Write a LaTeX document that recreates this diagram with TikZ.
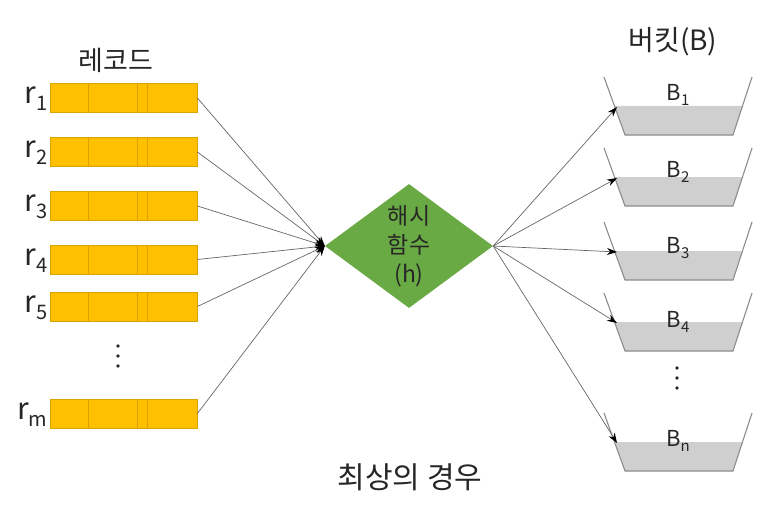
\documentclass[tikz,border=0pt]{standalone}
\usepackage{fontspec}
\setmainfont{Noto Sans CJK KR}
\usetikzlibrary{shapes.geometric,arrows.meta}
\definecolor{recfill}{HTML}{FFC000}
\definecolor{recline}{HTML}{D9A200}
\definecolor{hashgreen}{HTML}{6AAA45}
\definecolor{txt}{HTML}{262626}
\definecolor{bucketline}{HTML}{8C8C8C}
\definecolor{bucketfill}{HTML}{CFCFCF}
\newcommand{\subtxt}[1]{{\fontsize{20}{20}\selectfont\raisebox{-7pt}{#1}}}
\newcommand{\bsub}[1]{{\fontsize{15}{15}\selectfont\raisebox{-5pt}{#1}}}
\tikzset{
  rec/.style={draw=recline, fill=recfill, line width=0.8pt, minimum width=147pt, minimum height=29pt, inner sep=0pt},
  recdiv/.style={draw=recline, line width=0.8pt},
  rlab/.style={text=txt, font=\fontsize{30}{30}\selectfont, inner sep=0pt, anchor=east},
  title/.style={text=txt, font=\fontsize{27}{27}\selectfont, inner sep=0pt},
  hash/.style={shape=diamond, fill=hashgreen, minimum width=168pt, minimum height=124pt, inner sep=0pt, aspect=1.35, text=txt, align=center, font=\fontsize{23}{29}\selectfont},
  bucket/.style={draw=bucketline, line width=1.1pt},
  blab/.style={text=txt, font=\fontsize{22}{22}\selectfont, inner sep=0pt},
  conn/.style={draw=black!60, line width=0.7pt, -{Stealth[length=10pt,width=7pt,color=black]}},
  dotmark/.style={fill=black!85, draw=none}
}
\begin{document}
\begin{tikzpicture}[x=1pt,y=-1pt]
\useasboundingbox (0,0) rectangle (777,511);
% titles
\node[title] (trec) at (116,60) {레코드};
\node[title, font=\fontsize{28}{28}\selectfont] (tbuck) at (673,42) {버킷(B)};
\node[title, font=\fontsize{30}{30}\selectfont] (tcase) at (410,477) {최상의 경우};
% hash function
\node[hash] (h) at (409,246) {해시\\함수\\(h)};
% records
\foreach \n/\y in {1/98,2/152,3/206,4/259.5,5/306.5,m/413.5}{
  \node[rec] (r\n) at (123.5,\y) {};
  \foreach \dx in {39,88,98}{
    \draw[recdiv] ([xshift=\dx pt]r\n.north west) -- ([xshift=\dx pt]r\n.south west);
  }
  \node[rlab] (l\n) at ([xshift=-2pt,yshift=-1pt]r\n.west) {r\subtxt{\n}};
  \draw[conn] (r\n.east) -- (h.west);
}
% vertical dots under records
\foreach \yy in {346,356,366}{ \fill[dotmark] (118,\yy) circle (1.9pt); }
% buckets
\foreach \n/\T/\ly in {1/77/95,2/148/172,3/222/248,4/293/322,n/413/441}{
  \fill[bucketfill] (614.5,\T+29) -- (742.5,\T+29) -- (733,\T+58) -- (625,\T+58) -- cycle;
  \draw[bucket] (604,\T) -- (625,\T+58) -- (733,\T+58) -- (752,\T);
  \node[blab] (B\n) at (678,\ly) {B\bsub{\n}};
  \coordinate (b\n) at (617,\T+30);
  \draw[conn] (h.east) -- (b\n);
}
\foreach \yy in {368,378,388}{ \fill[dotmark] (677,\yy) circle (1.9pt); }
\end{tikzpicture}
\end{document}
